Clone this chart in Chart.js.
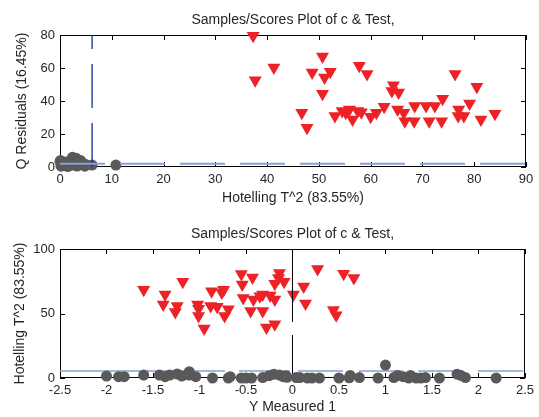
<!DOCTYPE html>
<html>
<head>
<meta charset="utf-8">
<title>Samples/Scores Plot of c & Test</title>
<style>
    html, body { margin: 0; padding: 0; background: #fff; }
    canvas { display: block; }
</style>
<script src="https://cdn.jsdelivr.net/npm/chart.js@4.4.1/dist/chart.umd.min.js"></script>
</head>
<body>
<canvas id="top-chart" width="539" height="210"></canvas>
<canvas id="bottom-chart" width="539" height="207"></canvas>
<script>
// Top plot: Hotelling T^2 vs Q residuals
const topTestT2 = [37.3, 37.7, 41.3, 50.7, 48.7, 51.1, 52.2, 50.7, 46.7, 47.7, 53.1, 54.5, 55.2, 55.9, 56.5, 57.5,
    57.8, 59.3, 60.0, 61.1, 62.6, 64.1, 64.4, 65.2, 65.4, 66.4, 66.6, 68.4, 68.5, 70.7, 71.3, 72.4, 73.7, 73.9,
    76.3, 77.0, 76.9, 78.0, 79.1, 80.5, 81.3, 84.0, 58.2];
const topTestQ = [79.6, 52.6, 60.3, 67.0, 57.3, 54.3, 57.7, 44.4, 32.9, 23.8, 30.9, 33.9, 32.9, 34.9, 28.8, 33.9,
    61.3, 56.3, 30.5, 32.9, 36.5, 46.1, 49.5, 34.9, 45.1, 32.9, 27.8, 27.8, 36.9, 36.9, 27.8, 36.9, 27.8, 41.4,
    56.3, 34.9, 30.9, 30.9, 38.5, 48.7, 28.8, 32.3, 33.2];
const topCalT2 = [0.0, 0.8, 2.4, 3.1, 4.0, 4.4, 1.8, 3.3, 6.2, 10.8, 0.2, 0.5, 1.2, 1.5, 2.0, 2.7, 3.6, 4.8, 5.0, 0.1];
const topCalQ = [3.2, 1.0, 5.9, 5.3, 3.9, 1.4, 1.0, 0.6, 1.2, 1.2, 0.5, 2.0, 3.0, 0.3, 2.0, 1.2, 2.5, 0.5, 1.5, 4.0];
const topXTicks = [0, 90, 10];
const topYTicks = [0, 80, 20];
const topQLimit = 2;
const topT2Limit = 6.2;

// Bottom plot: Y measured vs Hotelling T^2
const botTestY = [-1.60, -1.37, -1.39, -1.24, -1.26, -1.18, -1.02, -1.01, -1.01, -0.95, -0.88, -0.87, -0.81, -0.76,
    -0.74, -0.69, -0.73, -0.55, -0.54, -0.53, -0.43, -0.42, -0.45, -0.32, -0.32, -0.28, -0.35, -0.24, -0.19,
    -0.19, -0.14, -0.15, -0.19, -0.09, 0.01, 0.12, 0.14, 0.27, 0.44, 0.47, 0.55, 0.66];
const botTestT2 = [68.5, 64.7, 57.0, 55.8, 51.2, 74.7, 57.0, 53.7, 48.1, 38.4, 55.8, 67.3, 55.2, 66.2,
    68.5, 53.2, 48.1, 80.6, 72.4, 62.1, 78.0, 60.9, 51.9, 64.7, 51.9, 39.1, 63.4, 64.0, 60.9,
    41.7, 81.3, 77.5, 73.0, 74.7, 64.7, 71.0, 57.8, 84.4, 52.7, 48.6, 80.8, 77.5];
const botCalY = [-2.0, -1.87, -1.81, -1.6, -1.43, -1.37, -1.32, -1.24, -1.19, -1.11, -1.11, -1.04, -0.86, -0.69,
    -0.67, -0.55, -0.5, -0.44, -0.32, -0.25, -0.2, -0.14, -0.07, -0.06, 0.04, -0.1, 0.08, 0.16, 0.21, 0.29,
    0.5, 0.61, 0.62, 0.72, 0.92, 1.0, 1.09, 1.13, 1.19, 1.25, 1.27, 1.33, 1.38, 1.43, 1.58, 1.77, 1.81, 1.86, 2.19];
const botCalT2 = [1.5, 1.0, 1.0, 2.3, 2.3, 1.0, 2.3, 3.1, 1.5, 4.9, 2.3, 1.0, 0.0, 0.0,
    1.0, 0.0, 0.0, 0.0, 0.3, 1.8, 3.0, 2.3, 1.8, 0.5, 0.3, 1.0, 0.3, 0.0, 0.0, 0.0,
    0.0, 0.2, 2.0, 0.3, 0.0, 10.0, 0.3, 2.0, 1.0, 0.0, 2.0, 0.0, 0.0, 0.3, 0.0, 3.0, 2.0, 0.3, 0.0];
const botXTicks = [-2.5, 2.5, 0.5];
const botYTicks = [0, 100, 50];
const botT2Limit = 5.5;
const botYZero = 0;

const plotTitle = 'Samples/Scores Plot of c & Test,';
const textColor = '#262626';
const testColor = '#ec2227';
const calColor = '#595959';
const limitColor = '#8b9fd3';
const fontFamily = '"Liberation Sans", Arial, sans-serif';

Chart.defaults.font.family = fontFamily;
Chart.defaults.font.size = 13;
Chart.defaults.color = textColor;

const toPoints = (xs, ys) => xs.map((x, i) => ({ x: x, y: ys[i] }));

// MATLAB style box: frame, inward ticks and title above the axes
const matlabBox = {
    id: 'matlabBox',
    beforeDatasetsDraw(chart, args, opts) {
        const { ctx, chartArea: a, scales: { x, y } } = chart;
        ctx.save();
        ctx.strokeStyle = '#000';
        ctx.lineWidth = 1;
        ctx.strokeRect(a.left + 0.5, a.top + 0.5, a.right - a.left - 1, a.bottom - a.top - 1);
        ctx.beginPath();
        x.ticks.forEach(t => {
            const px = Math.round(x.getPixelForValue(t.value)) + 0.5;
            ctx.moveTo(px, a.bottom); ctx.lineTo(px, a.bottom - 5);
            ctx.moveTo(px, a.top); ctx.lineTo(px, a.top + 5);
        });
        y.ticks.forEach(t => {
            const py = Math.round(y.getPixelForValue(t.value)) + 0.5;
            ctx.moveTo(a.left, py); ctx.lineTo(a.left + 5, py);
            ctx.moveTo(a.right, py); ctx.lineTo(a.right - 5, py);
        });
        ctx.stroke();
        ctx.fillStyle = textColor;
        ctx.font = '14px ' + fontFamily;
        ctx.textAlign = 'center';
        ctx.textBaseline = 'middle';
        ctx.fillText(opts.text, (a.left + a.right) / 2, a.top - 15);
        ctx.restore();
    }
};

function axis(ticks, title, isX, fitSize, titlePad, fmt) {
    return {
        type: 'linear',
        position: isX ? 'bottom' : 'left',
        min: ticks[0],
        max: ticks[1],
        grid: { display: false, drawTicks: false },
        border: { display: false },
        ticks: {
            stepSize: ticks[2],
            padding: 5,
            maxRotation: 0,
            autoSkip: false,
            callback: fmt || (v => String(v))
        },
        title: {
            display: true,
            text: title,
            color: textColor,
            font: { size: 14 },
            padding: isX ? { top: 0, bottom: titlePad } : { top: titlePad, bottom: 0 }
        },
        afterFit(scale) {
            if (isX) scale.height = fitSize; else scale.width = fitSize;
        }
    };
}

function scatterSet(points, color, style, radius) {
    return {
        type: 'scatter',
        data: points,
        pointStyle: style,
        rotation: style === 'triangle' ? 180 : 0,
        pointRadius: radius,
        pointBackgroundColor: color,
        pointBorderColor: color,
        pointBorderWidth: 0,
        clip: false
    };
}

function limitLine(points, color, width, dash) {
    return {
        type: 'line',
        data: points,
        borderColor: color,
        borderWidth: width,
        borderDash: dash,
        pointRadius: 0,
        fill: false,
        tension: 0
    };
}

// Top chart
new Chart(document.getElementById('top-chart'), {
    type: 'scatter',
    data: {
        datasets: [
            limitLine([{ x: topXTicks[0], y: topQLimit }, { x: topXTicks[1], y: topQLimit }], limitColor, 2, [45, 15]),
            limitLine([{ x: topT2Limit, y: topYTicks[0] }, { x: topT2Limit, y: topYTicks[1] }], '#1a2f9c', 1.3, [44, 15]),
            scatterSet(toPoints(topCalT2, topCalQ), calColor, 'circle', 5.5),
            scatterSet(toPoints(topTestT2, topTestQ), testColor, 'triangle', 7.5)
        ]
    },
    options: {
        responsive: false,
        animation: false,
        layout: { padding: { top: 35, right: 13, left: 0, bottom: 0 } },
        scales: {
            x: axis(topXTicks, 'Hotelling T^2 (83.55%)', true, 43, 3),
            y: axis(topYTicks, 'Q Residuals (16.45%)', false, 60, 14)
        },
        plugins: {
            legend: { display: false },
            tooltip: { enabled: false },
            matlabBox: { text: plotTitle }
        }
    },
    plugins: [matlabBox]
});

// Bottom chart
new Chart(document.getElementById('bottom-chart'), {
    type: 'scatter',
    data: {
        datasets: [
            scatterSet(toPoints(botCalY, botCalT2), calColor, 'circle', 5.5),
            limitLine([{ x: botXTicks[0], y: botT2Limit }, { x: botXTicks[1], y: botT2Limit }], limitColor, 1.5,
                [165, 14, 51, 8, 45, 16, 44, 15, 45, 15, 45, 15]),
            limitLine([{ x: botYZero, y: botYTicks[0] }, { x: botYZero, y: botYTicks[1] }], '#000', 1, [43, 13, 100, 13]),
            scatterSet(toPoints(botTestY, botTestT2), testColor, 'triangle', 7.5)
        ]
    },
    options: {
        responsive: false,
        animation: false,
        layout: { padding: { top: 39, right: 13, left: 0, bottom: 0 } },
        scales: {
            x: axis(botXTicks, 'Y Measured 1', true, 39, 1, v => String(Math.round(v * 10) / 10)),
            y: axis(botYTicks, 'Hotelling T^2 (83.55%)', false, 60, 12)
        },
        plugins: {
            legend: { display: false },
            tooltip: { enabled: false },
            matlabBox: { text: plotTitle }
        }
    },
    plugins: [matlabBox]
});
</script>
</body>
</html>
